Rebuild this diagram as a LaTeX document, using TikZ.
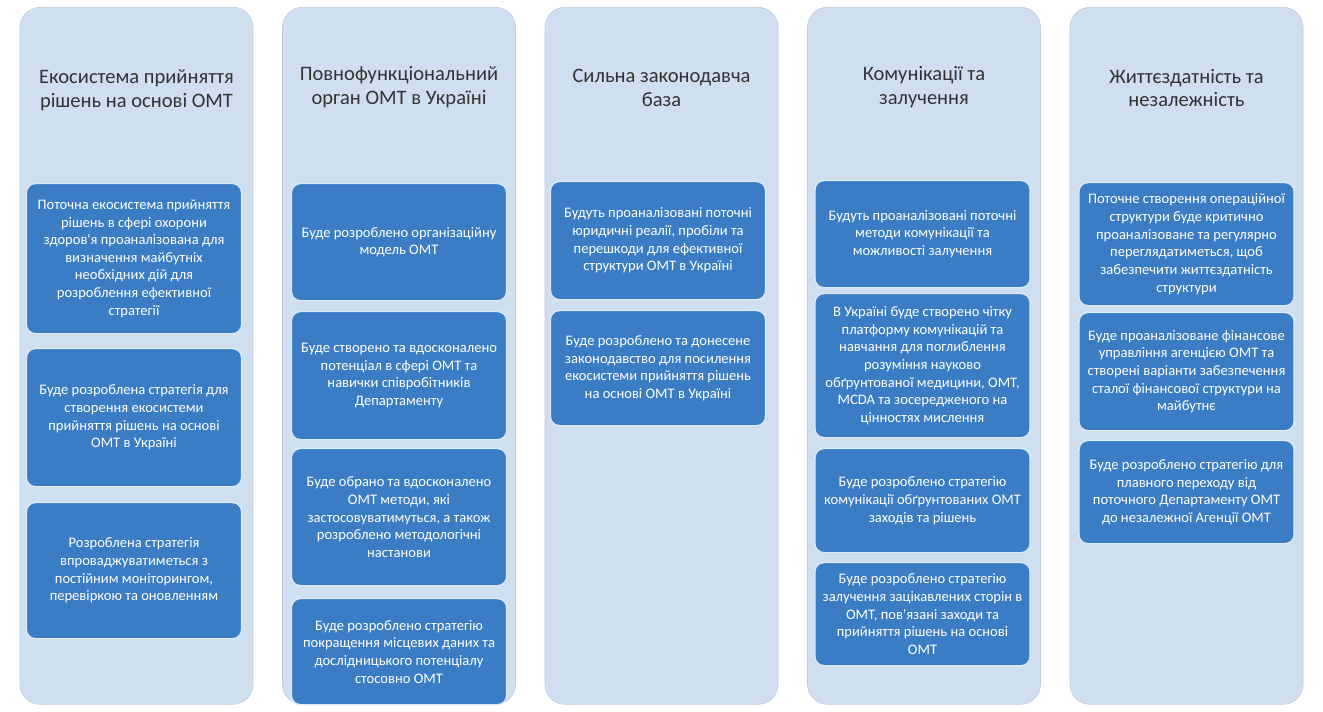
\documentclass[tikz,border=0pt]{standalone}
\usepackage{fontspec}
\newfontfamily\cfont{Carlito}
\definecolor{colfill}{HTML}{D0DFF0}
\definecolor{boxfill}{HTML}{3B7DC4}
\definecolor{boxline}{HTML}{DDEAF7}
\definecolor{titlecol}{HTML}{333333}
\tikzset{
  colbox/.style={fill=colfill, draw=colfill!92!black, line width=0.6bp, rounded corners=20bp, minimum width=233bp, inner sep=0pt, anchor=north},
  titletext/.style={text=titlecol, align=center, font=\cfont\fontsize{20.6}{24}\selectfont, inner sep=0pt},
  bx/.style={fill=boxfill, draw=boxline, line width=1.2bp, rounded corners=9bp, minimum width=215bp, inner sep=0pt, anchor=north, text=white, align=center, font=\cfont\fontsize{14.6}{17.7}\selectfont}
}
\begin{document}
\begin{tikzpicture}[x=1bp, y=-1bp]
\useasboundingbox (0,0) rectangle (1323,711);
\fill[white] (0,0) rectangle (1323,711);
% columns
\node[colbox, minimum height=697bp] (c1) at (136.5,7) {};
\node[colbox, minimum height=697bp] (c2) at (399,7) {};
\node[colbox, minimum height=697bp] (c3) at (661.5,7) {};
\node[colbox, minimum height=697bp] (c4) at (924,7) {};
\node[colbox, minimum height=697bp] (c5) at (1186.5,7) {};
% titles
\node[titletext] (t1) at (136.5,90) {Екосистема прийняття\\рішень на основі ОМТ};
\node[titletext] (t2) at (399,87) {Повнофункціональний\\орган ОМТ в Україні};
\node[titletext] (t3) at (661.5,88) {Сильна законодавча\\база};
\node[titletext] (t4) at (924,87) {Комунікації та\\залучення};
\node[titletext] (t5) at (1186.5,88) {Життєздатність та\\незалежність};
% column 1
\node[bx, minimum height=150bp] (b11) at (134,183) {Поточна екосистема прийняття\\рішень в сфері охорони\\здоров'я проаналізована для\\визначення майбутніх\\необхідних дій для\\розроблення ефективної\\стратегії};
\node[bx, minimum height=138bp] (b12) at (134,348) {Буде розроблена стратегія для\\створення екосистеми\\прийняття рішень на основі\\ОМТ в Україні};
\node[bx, minimum height=136bp] (b13) at (134,502) {Розроблена стратегія\\впроваджуватиметься з\\постійним моніторингом,\\перевіркою та оновленням};
% column 2
\node[bx, minimum height=117bp] (b21) at (399,183) {Буде розроблено організаційну\\модель ОМТ};
\node[bx, minimum height=128bp] (b22) at (399,311) {Буде створено та вдосконалено\\потенціал в сфері ОМТ та\\навички співробітників\\Департаменту};
\node[bx, minimum height=137bp] (b23) at (399,448) {Буде обрано та вдосконалено\\ОМТ методи, які\\застосовуватимуться, а також\\розроблено методологічні\\настанови};
\node[bx, minimum height=106bp] (b24) at (399,598) {Буде розроблено стратегію\\покращення місцевих даних та\\дослідницького потенціалу\\стосовно ОМТ};
% column 3
\node[bx, minimum height=118bp] (b31) at (658,181) {Будуть проаналізовані поточні\\юридичні реалії, пробіли та\\перешкоди для ефективної\\структури ОМТ в Україні};
\node[bx, minimum height=115bp] (b32) at (658,310) {Буде розроблено та донесене\\законодавство для посилення\\екосистеми прийняття рішень\\на основі ОМТ в Україні};
% column 4
\node[bx, minimum height=107bp] (b41) at (922.5,180) {Будуть проаналізовані поточні\\методи комунікації та\\можливості залучення};
\node[bx, minimum height=144bp] (b42) at (922.5,293) {В Україні буде створено чітку\\платформу комунікацій та\\навчання для поглиблення\\розуміння науково\\обґрунтованої медицини, ОМТ,\\MCDA та зосередженого на\\цінностях мислення};
\node[bx, minimum height=104bp] (b43) at (922.5,448) {Буде розроблено стратегію\\комунікації обґрунтованих ОМТ\\заходів та рішень};
\node[bx, minimum height=103bp] (b44) at (922.5,562) {Буде розроблено стратегію\\залучення зацікавлених сторін в\\ОМТ, пов'язані заходи та\\прийняття рішень на основі\\ОМТ};
% column 5
\node[bx, minimum height=123bp] (b51) at (1186.5,182) {Поточне створення операційної\\структури буде критично\\проаналізоване та регулярно\\переглядатиметься, щоб\\забезпечити життєздатність\\структури};
\node[bx, minimum height=118bp] (b52) at (1186.5,312) {Буде проаналізоване фінансове\\управління агенцією ОМТ та\\створені варіанти забезпечення\\сталої фінансової структури на\\майбутнє};
\node[bx, minimum height=103bp] (b53) at (1186.5,440) {Буде розроблено стратегію для\\плавного переходу від\\поточного Департаменту ОМТ\\до незалежної Агенції ОМТ};
\end{tikzpicture}
\end{document}
